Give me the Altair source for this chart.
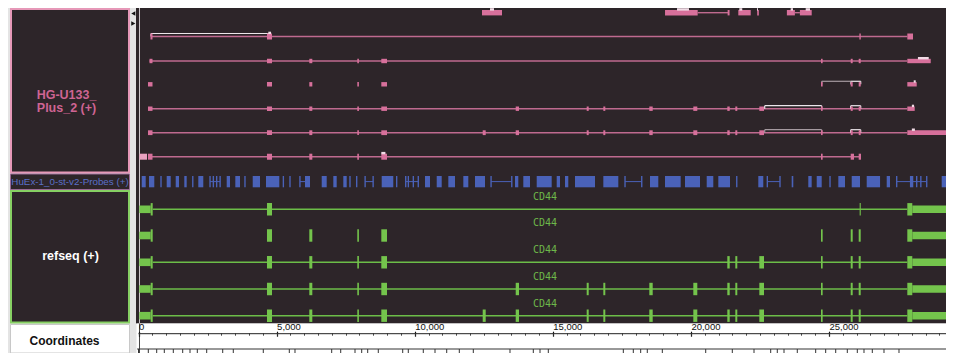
import altair as alt
import pandas as pd

# ---------------- values (genomic position, bp) ----------------
# HG-U133_Plus_2 (+) track
HG_TOP_EXONS = [[12437, 13161], [19063, 20246], [21330, 21400], [21716, 22166],
                [22400, 22460], [23475, 23765], [23946, 24374]]
HG_TOP_LINKS = [[20246, 21358], [23765, 23946]]

HG_ROW1_EXONS = [[434, 507], [4652, 4834], [26100, 26150], [27835, 28042]]
HG_ROW2_EXONS = [[398, 507], [4652, 4834], [6184, 6293], [7922, 7980], [8791, 8997],
                 [24710, 24770], [25786, 25858], [26075, 26148], [27835, 28683]]
HG_ROW3_EXONS = [[344, 507], [4652, 4834], [6184, 6293], [7922, 7980], [8791, 8997],
                 [24710, 24770], [25786, 25858], [26075, 26148], [27835, 28176]]
HG_ROW4_EXONS = [[344, 507], [4652, 4834], [6184, 6293], [7922, 7980], [8791, 8997],
                 [13657, 13776], [16227, 16300], [16829, 16901], [18494, 18617],
                 [20087, 20232], [21318, 21405], [21608, 21680], [22477, 22647],
                 [24710, 24770], [25786, 25858], [26075, 26148], [27835, 28103]]
HG_ROW5_EXONS = [[344, 507], [4652, 4834], [6184, 6293], [7922, 7980], [8791, 8997],
                 [12462, 12571], [13657, 13776], [16227, 16300], [16829, 16901],
                 [18494, 18617], [20087, 20232], [21318, 21405], [21608, 21680],
                 [22477, 22647], [24710, 24770], [25786, 25858], [26075, 26148],
                 [27835, 29310]]
HG_ROW6_EXONS = [[344, 507], [4652, 4834], [6184, 6293], [7922, 7980], [8791, 8997],
                 [24710, 24770], [25786, 25905], [26075, 26159]]
HG_ROW6_PALE = [[29, 308]]
HG_INTRONS = [[1, 453, 27835], [2, 398, 27835], [4, 344, 27835], [5, 344, 27835], [6, 344, 26148]]
HG_GAPS = [[1, 453, 4725, "light"], [3, 24736, 25786, "grey"], [3, 25786, 26148, "light"],
           [4, 22672, 24736, "light"], [4, 25786, 26148, "light"],
           [5, 22672, 24736, "grey"], [5, 25786, 26148, "light"]]
# small light marks sitting on the top edge of some probe-set blocks
HG_MARKS = [[0, 12727, 12872], [0, 19497, 19931], [0, 21752, 21860], [0, 22393, 22430],
            [0, 23612, 23697], [0, 24156, 24312], [1, 4700, 4800], [2, 28220, 28611],
            [3, 28067, 28140], [4, 28000, 28080], [5, 28000, 28110], [6, 8791, 8940]]

# HuEx-1_0-st-v2-Probes (+) track
PROBE_BLOCKS = [
    [116, 261], [380, 572], [790, 840], [1021, 1166], [1347, 1466], [1658, 1745],
    [1940, 1990], [2165, 2346], [2565, 2615], [2685, 2735], [2805, 2855], [2930, 2980],
    [3193, 3313], [3505, 3675], [3830, 3880], [4135, 4399], [4616, 5098], [5220, 5270],
    [5460, 5510], [5820, 5870], [6028, 6209], [6633, 6814], [7053, 7176], [7415, 7538],
    [7632, 7682], [7875, 7925], [8180, 8230], [8470, 8520], [8805, 9225], [9323, 9373],
    [9649, 9700], [9745, 9795], [9925, 9975], [10105, 10155], [10373, 10554], [10797, 10978],
    [11217, 11459], [11760, 11941], [12183, 12545], [12740, 12790], [13490, 13540],
    [13631, 13751], [13932, 14175], [14417, 14960], [15141, 15261], [15442, 15561],
    [15804, 16528], [16829, 17372], [17590, 17640], [18195, 18245], [18519, 18820],
    [19063, 19630], [19787, 20330], [20572, 20811], [20992, 21415], [21635, 21685],
    [22440, 22621], [22742, 22792], [23201, 23251], [23649, 23707], [24250, 24373],
    [24555, 24736], [25012, 25062], [25337, 25580], [25822, 26122], [26365, 26849],
    [27089, 27209], [27426, 27476], [27930, 28051], [28150, 28200], [28300, 28350],
    [28513, 28563], [29080, 29319],
]
PROBE_LINKS = [[2589, 2956], [5847, 6028], [8201, 8501], [9649, 10130], [12762, 13511],
               [17614, 18219], [22766, 23226], [27451, 28538]]

# refseq (+) track : 5 CD44 transcripts
REF_UTR = [[29, 441], [28016, 29310]]
REF_CDS_ENDS = [[441, 514], [27835, 28016]]
REF_ROW1 = [[4652, 4834], [26110, 26150]]
REF_ROW2 = [[4652, 4834], [6184, 6293], [7922, 7980], [8791, 8997], [24710, 24770],
            [25786, 25858], [26075, 26148]]
REF_ROW3 = [[4652, 4834], [6184, 6293], [7922, 7980], [8791, 8997], [21318, 21405],
            [21608, 21680], [22477, 22647], [24710, 24770], [25786, 25858], [26075, 26148]]
REF_ROW4 = [[4652, 4834], [6184, 6293], [7922, 7980], [8791, 8997], [13657, 13776],
            [16227, 16300], [16829, 16901], [18494, 18617], [20087, 20232], [21318, 21405],
            [21608, 21680], [22477, 22647], [24710, 24770], [25786, 25858], [26075, 26148]]
REF_ROW5 = [[4652, 4834], [6184, 6293], [7922, 7980], [8791, 8997], [12462, 12571],
            [13657, 13776], [16227, 16300], [16829, 16901], [18494, 18617], [20087, 20232],
            [21318, 21405], [21608, 21680], [22477, 22647], [24710, 24770], [25786, 25858],
            [26075, 26148]]
REF_INTRON_ROWS = [1, 3, 4, 5]
REF_INTRON = [514, 27835]
GENE_NAME = "CD44"
GENE_LABEL_POS = 14717

# Coordinates ruler
MAJOR_TICKS = [0, 5000, 10000, 15000, 20000, 25000]
MINOR_TICKS = list(range(0, 29500, 500))
RULER_SPAN = [0, 29310]
LOWER_SPAN = [-50, 29310]
LOWER_TICKS = [0, 355, 659, 934, 1260, 1600, 1865, 2129, 2469, 3049, 3432, 4518, 5460, 5666,
               6995, 7321, 7839, 8081, 8298, 8682, 9566, 9768, 10311, 10735, 11159, 11615,
               12122, 13450, 14294, 14537, 14837, 17553, 17915, 18182, 18421, 18965, 20536,
               21499, 22285, 22889, 23128, 23371, 23852, 24518, 24880, 25243, 25663, 26025,
               26267, 26568, 26991, 27534]
VIEW_START = 36

TRACK_LABELS = ["HG-U133_", "Plus_2 (+)"]
PROBE_LABEL = "HuEx-1_0-st-v2-Probes (+)"
REF_LABEL = "refseq (+)"
COORD_LABEL = "Coordinates"

# ---------------- layout / style ----------------
W, H = 938, 345
K = 0.02762            # pixels per bp
X0_PAGE = 138.5        # page x of position 0
D0 = -(X0_PAGE - 8) / K
D1 = D0 + W / K
XS = alt.Scale(domain=[D0, D1], nice=False, zero=False)
YS = alt.Scale(domain=[8, 8 + H], reverse=True, nice=False, zero=False)

HG_Y = [12.7, 36.5, 61.0, 84.3, 108.7, 132.7, 156.7]
HG_HALF = [2.7, 3.0, 2.2, 2.2, 2.2, 2.4, 3.0]
REF_Y = [209.3, 235.5, 262.3, 289.0, 315.7]
LABEL_Y = [196.7, 223.3, 250.0, 277.0, 303.7]
PROBE_Y = (176.0, 187.3)

DARK = "#2d2529"
BG = "#e4e4e4"
PINK = "#d7709b"
PINK_LINE = "#bf6a8f"
PINK_PALE = "#e9a2c0"
PINK_BORDER = "#e698b8"
PINK_TEXT = "#cf6493"
GREEN = "#74c44c"
GREEN_LINE = "#6cbd48"
GREEN_BORDER = "#86d063"
BLUE = "#4a62b8"
BLUE_TEXT = "#5a70c8"


def P(v):
    return v - 8


ONE = pd.DataFrame({"k": [0]})


def box(x1, y1, x2, y2, fill, stroke=None, sw=0):
    kw = {"fill": fill}
    if stroke:
        kw.update(stroke=stroke, strokeWidth=sw)
    return alt.Chart(ONE).mark_rect(**kw).encode(
        x=alt.value(P(x1)), x2=alt.value(P(x2)), y=alt.value(P(y1)), y2=alt.value(P(y2)))


def X(f):
    return alt.X(f, scale=XS, axis=None)


def Y(f):
    return alt.Y(f, scale=YS, axis=None)


# ---------------- tables ----------------
hg_rows = [HG_TOP_EXONS, HG_ROW1_EXONS, HG_ROW2_EXONS, HG_ROW3_EXONS,
           HG_ROW4_EXONS, HG_ROW5_EXONS, HG_ROW6_EXONS]
hg_ex = []
for r, exons in enumerate(hg_rows):
    for s, e in exons:
        hg_ex.append({"start": s, "end": e, "y0": HG_Y[r] - HG_HALF[r], "y1": HG_Y[r] + HG_HALF[r]})
hg_ex = pd.DataFrame(hg_ex)
hg_pale = pd.DataFrame([{"start": s, "end": e, "y0": HG_Y[6] - HG_HALF[6], "y1": HG_Y[6] + HG_HALF[6]}
                        for s, e in HG_ROW6_PALE])
hg_marks = pd.DataFrame([{"start": s, "end": e, "y0": HG_Y[r] - HG_HALF[r] - 1.8, "y1": HG_Y[r] - HG_HALF[r] + 0.6}
                         for r, s, e in HG_MARKS])
hg_int = pd.DataFrame([{"start": s, "end": e, "y": HG_Y[r]} for r, s, e in HG_INTRONS] +
                      [{"start": s, "end": e, "y": HG_Y[0]} for s, e in HG_TOP_LINKS])
hg_gap = pd.DataFrame([{"start": s, "end": e, "y": HG_Y[r] - 3.0, "yc": HG_Y[r], "kind": k}
                       for r, s, e, k in HG_GAPS])
hg_gap_ends = pd.concat([hg_gap.assign(pos=hg_gap["start"]), hg_gap.assign(pos=hg_gap["end"])])

pr_bl = pd.DataFrame([{"start": s, "end": e} for s, e in PROBE_BLOCKS])
pr_ln = pd.DataFrame([{"start": s, "end": e} for s, e in PROBE_LINKS])

ref_rows = [REF_ROW1, REF_ROW2, REF_ROW3, REF_ROW4, REF_ROW5]
ref_cds, ref_utr, ref_int = [], [], []
for r, exons in enumerate(ref_rows):
    yc = REF_Y[r]
    for s, e in exons + REF_CDS_ENDS:
        ref_cds.append({"start": s, "end": e, "y0": yc - 6.2, "y1": yc + 6.2})
    for s, e in REF_UTR:
        ref_utr.append({"start": s, "end": e, "y0": yc - 3.8, "y1": yc + 3.8})
    if (r + 1) in REF_INTRON_ROWS:
        ref_int.append({"start": REF_INTRON[0], "end": REF_INTRON[1], "y": yc})
ref_cds = pd.DataFrame(ref_cds)
ref_utr = pd.DataFrame(ref_utr)
ref_int = pd.DataFrame(ref_int)
gene_lab = pd.DataFrame({"pos": [GENE_LABEL_POS] * len(LABEL_Y), "y": LABEL_Y, "name": [GENE_NAME] * len(LABEL_Y)})

# ---------------- layers ----------------
layers = []
# panels
layers.append(box(136, 7, 946, 323.5, DARK))
layers.append(box(136.5, 323.5, 946, 353, "white"))
layers.append(box(11, 9, 129, 172.5, DARK, PINK_BORDER, 2))
layers.append(box(10.5, 174, 129.5, 189.5, DARK, "#9a6a95", 1))
layers.append(box(11, 191, 129, 322.5, DARK, GREEN_BORDER, 2))
layers.append(box(10.5, 324.5, 129.5, 353, "white", "#c8c8c8", 1))

# view start line
vs = pd.DataFrame({"pos": [VIEW_START]})
layers.append(alt.Chart(vs).mark_rule(color="#cfc8cc", strokeWidth=1).encode(
    x=X("pos:Q"), y=alt.value(P(8)), y2=alt.value(P(323.5))))
layers.append(alt.Chart(vs).mark_rule(color="#444", strokeWidth=1).encode(
    x=X("pos:Q"), y=alt.value(P(323.5)), y2=alt.value(P(353))))

# HG track
layers.append(alt.Chart(hg_int).mark_rule(color=PINK_LINE, strokeWidth=1.4).encode(
    x=X("start:Q"), x2="end:Q", y=Y("y:Q")))
gap_colors = alt.Scale(domain=["light", "grey"], range=["#ece6ea", "#a59aa0"])
layers.append(alt.Chart(hg_gap).mark_rule(strokeWidth=1.2).encode(
    x=X("start:Q"), x2="end:Q", y=Y("y:Q"),
    color=alt.Color("kind:N", scale=gap_colors, legend=None)))
layers.append(alt.Chart(hg_gap_ends).mark_rule(strokeWidth=1.2).encode(
    x=X("pos:Q"), y=Y("y:Q"), y2="yc:Q",
    color=alt.Color("kind:N", scale=gap_colors, legend=None)))
layers.append(alt.Chart(hg_ex).mark_rect(color=PINK).encode(
    x=X("start:Q"), x2="end:Q", y=Y("y0:Q"), y2="y1:Q"))
layers.append(alt.Chart(hg_pale).mark_rect(color=PINK_PALE).encode(
    x=X("start:Q"), x2="end:Q", y=Y("y0:Q"), y2="y1:Q"))
layers.append(alt.Chart(hg_marks).mark_rect(color="#f1dbe5").encode(
    x=X("start:Q"), x2="end:Q", y=Y("y0:Q"), y2="y1:Q"))

# probes
layers.append(alt.Chart(pr_ln).mark_rule(color=BLUE, strokeWidth=1).encode(
    x=X("start:Q"), x2="end:Q", y=alt.value(P(181.6))))
layers.append(alt.Chart(pr_bl).mark_rect(color=BLUE).encode(
    x=X("start:Q"), x2="end:Q", y=alt.value(P(PROBE_Y[0])), y2=alt.value(P(PROBE_Y[1]))))

# refseq
layers.append(alt.Chart(ref_int).mark_rule(color=GREEN_LINE, strokeWidth=1.4).encode(
    x=X("start:Q"), x2="end:Q", y=Y("y:Q")))
layers.append(alt.Chart(ref_utr).mark_rect(color=GREEN).encode(
    x=X("start:Q"), x2="end:Q", y=Y("y0:Q"), y2="y1:Q"))
layers.append(alt.Chart(ref_cds).mark_rect(color=GREEN).encode(
    x=X("start:Q"), x2="end:Q", y=Y("y0:Q"), y2="y1:Q"))
layers.append(alt.Chart(gene_lab).mark_text(color="#6db84a", font="DejaVu Sans Mono", fontSize=10,
                                            align="center", baseline="middle").encode(
    x=X("pos:Q"), y=Y("y:Q"), text="name:N"))

# coordinates ruler (major axis on the ruler line, minor ticks on the lower ruler)
major_axis = alt.Axis(orient="top", offset=-P(336.2), values=MAJOR_TICKS, format=",d",
                      domain=False, grid=False, ticks=True, tickSize=5, tickWidth=1.2,
                      tickColor="#111", labelAlign="left", labelFontSize=9.5, labelColor="#111",
                      labelFont="Liberation Sans", labelPadding=0, labelFlush=False,
                      labelOverlap=False, title=None, zindex=2)
minor_axis = alt.Axis(orient="top", offset=-P(335.2), values=MINOR_TICKS, labels=False,
                      domain=False, grid=False, ticks=True, tickSize=2.6, tickWidth=0.9,
                      tickColor="#333", title=None, zindex=2)
ruler = pd.DataFrame({"start": [RULER_SPAN[0]], "end": [RULER_SPAN[1]]})
layers.append(alt.Chart(ruler).mark_rule(color="#222", strokeWidth=1).encode(
    x=alt.X("start:Q", scale=XS, axis=major_axis), x2="end:Q", y=alt.value(P(333.7))))
lower = pd.DataFrame({"start": [LOWER_SPAN[0]], "end": [LOWER_SPAN[1]]})
layers.append(alt.Chart(lower).mark_rule(color="#333", strokeWidth=1).encode(
    x=alt.X("start:Q", scale=XS, axis=minor_axis), x2="end:Q", y=alt.value(P(349))))
layers.append(alt.Chart(pd.DataFrame({"pos": LOWER_TICKS})).mark_rule(color="#333", strokeWidth=1).encode(
    x=X("pos:Q"), y=alt.value(P(349)), y2=alt.value(P(353))))

# track labels
hg_lab = pd.DataFrame({"t": TRACK_LABELS})
for i, yy in enumerate([95, 107.5]):
    layers.append(alt.Chart(hg_lab).mark_text(
        color=PINK_TEXT, font="Liberation Sans", fontWeight="bold", fontSize=12.5,
        align="center", baseline="middle").encode(
        x=alt.value(P(66.5)), y=alt.value(P(yy)), text="t:N").transform_filter(alt.datum.t == TRACK_LABELS[i]))
layers.append(alt.Chart(pd.DataFrame({"t": [PROBE_LABEL]})).mark_text(
    color=BLUE_TEXT, font="Liberation Sans", fontSize=9.8, align="center", baseline="middle").encode(
    x=alt.value(P(70)), y=alt.value(P(182)), text="t:N"))
layers.append(alt.Chart(pd.DataFrame({"t": [REF_LABEL]})).mark_text(
    color="white", font="Liberation Sans", fontWeight="bold", fontSize=12.5,
    align="center", baseline="middle").encode(x=alt.value(P(70.5)), y=alt.value(P(256)), text="t:N"))
layers.append(alt.Chart(pd.DataFrame({"t": [COORD_LABEL]})).mark_text(
    color="#111", font="Liberation Sans", fontWeight="bold", fontSize=12,
    align="center", baseline="middle").encode(x=alt.value(P(64.5)), y=alt.value(P(341)), text="t:N"))

# scroll arrows
layers.append(alt.Chart(ONE).mark_point(shape="triangle-left", filled=True, color="#111", size=22, opacity=1).encode(
    x=alt.value(P(133.3)), y=alt.value(P(13.5))))
layers.append(alt.Chart(ONE).mark_point(shape="triangle-right", filled=True, color="#111", size=22, opacity=1).encode(
    x=alt.value(P(133.3)), y=alt.value(P(23.5))))

chart = alt.layer(*layers).resolve_axis(x="independent").properties(
    width=W, height=H, background=BG, padding=0,
    autosize=alt.AutoSizeParams(type="none"),
).configure_view(stroke=None)

chart.save("out.html", embed_options={"renderer": "svg", "actions": False})
